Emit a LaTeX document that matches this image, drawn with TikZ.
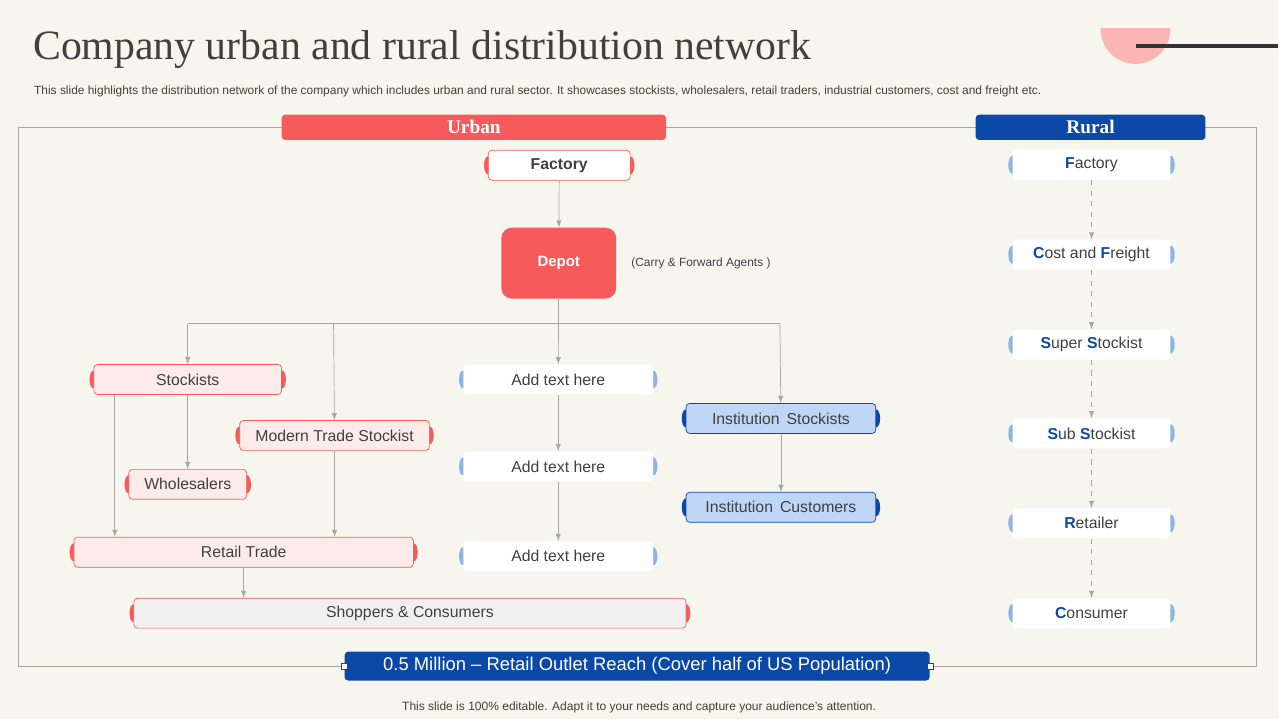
\documentclass[tikz,border=0pt]{standalone}
\usepackage{fontspec}
\setmainfont{Liberation Sans}
\newfontfamily\titlefont{Liberation Serif}
\usetikzlibrary{backgrounds}
\definecolor{slide}{HTML}{F7F6EE}
\definecolor{urbred}{HTML}{F65A5A}
\definecolor{urbpink}{HTML}{FDEBEA}
\definecolor{rurblue}{HTML}{0A49A8}
\definecolor{instblue}{HTML}{BFD6F6}
\definecolor{capblue}{HTML}{8DB4E8}
\definecolor{txt}{HTML}{404040}
\newcommand{\capsof}[2]{%
  \begin{pgfonlayer}{background}
    \fill[#2] (#1.west) ellipse (4 and 9);
    \fill[#2] (#1.east) ellipse (4 and 9);
  \end{pgfonlayer}}
\begin{document}
\begin{tikzpicture}
    [x=0.02cm, y=-0.02cm,
     box/.style={rectangle, rounded corners=2pt, minimum height=0.6cm, inner sep=0pt, font=\fontsize{9}{10}\selectfont, text=txt},
     urb/.style={box, fill=urbpink, draw=urbred},
     plain/.style={box, fill=white, minimum width=3.8cm},
     inst/.style={box, fill=instblue, draw=rurblue, minimum width=3.8cm},
     rur/.style={box, fill=white, minimum width=3.16cm},
     head/.style={rectangle, rounded corners=2pt, minimum height=0.46cm, text=white, font=\titlefont\bfseries\fontsize{11}{12}\selectfont},
     arr/.style={-latex, draw=gray!70},
     darr/.style={-latex, draw=gray!70, dashed}]
    \begin{pgfonlayer}{background}
      \fill[slide] (0,0) rectangle (1280,720);
    \end{pgfonlayer}
    % decoration
    \begin{scope}
      \clip (1090,29) rectangle (1180,80);
      \fill[urbred!45] (1137,29) circle (35);
    \end{scope}
    \draw[line width=2pt, black!80] (1138,46) -- (1280,46);
    % titles
    \node[anchor=west, font=\titlefont\fontsize{23.8}{26}\selectfont, text=txt] (title) at (27,50) {Company urban and rural distribution network};
    \node[anchor=west, font=\fontsize{6.8}{8}\selectfont, text=txt] (sub) at (28,92) {This slide highlights the distribution network of the company which includes urban and rural sector. It showcases stockists, wholesalers, retail traders, industrial customers, cost and freight etc.};
    \node[font=\fontsize{6.85}{8}\selectfont, text=txt] (foot) at (640,708) {This slide is 100\% editable. Adapt it to your needs and capture your audience's attention.};
    % frame
    \draw[gray!70] (18,128) rectangle (1258,667);
    \node[head, fill=urbred, minimum width=7.7cm] (urban) at (474.5,127.5) {Urban};
    \node[head, fill=rurblue, minimum width=4.6cm] (rural) at (1092,127.5) {Rural};
    % urban side
    \node[box, fill=white, draw=urbred, minimum width=2.84cm, font=\bfseries\fontsize{9}{10}\selectfont] (fac) at (560,165.5) {Factory};
    \node[rectangle, rounded corners=6pt, fill=urbred, minimum width=2.3cm, minimum height=1.42cm, text=white, font=\bfseries\fontsize{8.5}{10}\selectfont] (depot) at (559.5,263.5) {Depot};
    \node[anchor=west, font=\fontsize{6.8}{8}\selectfont, text=txt] (cfa) at (626,263.5) {(Carry \& Forward Agents )};
    \node[urb, minimum width=3.76cm] (stock) at (188,380) {Stockists};
    \node[urb, minimum width=3.8cm] (mts) at (335,436) {Modern Trade Stockist};
    \node[urb, minimum width=2.36cm] (whole) at (188,485) {Wholesalers};
    \node[urb, minimum width=6.8cm] (retail) at (244,553) {Retail Trade};
    \node[box, fill=gray!12, draw=urbred, minimum width=11.06cm] (shop) at (410.5,614) {Shoppers \& Consumers};
    \node[plain] (add1) at (559,380) {Add text here};
    \node[plain] (add2) at (559,467) {Add text here};
    \node[plain] (add3) at (559,557) {Add text here};
    \node[inst] (ist) at (782,419) {Institution\, Stockists};
    \node[inst] (icu) at (782,508) {Institution\, Customers};
    \foreach \n in {fac,stock,mts,whole,retail,shop} {\capsof{\n}{urbred}}
    \foreach \n in {add1,add2,add3} {\capsof{\n}{capblue}}
    \foreach \n in {ist,icu} {\capsof{\n}{rurblue}}
    \coordinate (bl) at (188,324);
    \coordinate (bm) at (334,324);
    \coordinate (br) at (781,324);
    \draw[arr] (fac) -- (depot);
    \draw[arr] (depot) -- (add1);
    \draw[draw=gray!70] (bl) -- (br);
    \draw[arr] (bl) -- (stock);
    \draw[arr] (bm) -- (mts);
    \draw[arr] (br) -- (ist);
    \draw[arr] (stock) -- (whole);
    \draw[arr] (stock.south -| 115,0) -- (retail.north -| 115,0);
    \draw[arr] (mts) -- (mts |- retail.north);
    \draw[arr] (retail) -- (retail |- shop.north);
    \draw[arr] (add1) -- (add2);
    \draw[arr] (add2) -- (add3);
    \draw[arr] (ist) -- (icu);
    % rural side
    \newcommand{\hl}[1]{\textbf{\textcolor{rurblue}{#1}}}
    \node[rur] (r1) at (1093,165) {\hl{F}actory};
    \node[rur] (r2) at (1093,255) {\hl{C}ost and \hl{F}reight};
    \node[rur] (r3) at (1093,345) {\hl{S}uper \hl{S}tockist};
    \node[rur] (r4) at (1093,434) {\hl{S}ub \hl{S}tockist};
    \node[rur] (r5) at (1093,524) {\hl{R}etailer};
    \node[rur] (r6) at (1093,614) {\hl{C}onsumer};
    \foreach \n in {r1,r2,r3,r4,r5,r6} {\capsof{\n}{capblue}}
    \foreach \a/\b in {r1/r2,r2/r3,r3/r4,r4/r5,r5/r6} {\draw[darr] (\a) -- (\b);}
    % banner
    \node[rectangle, rounded corners=2pt, fill=rurblue, minimum width=11.72cm, minimum height=0.56cm, text=white, font=\fontsize{10.5}{12}\selectfont] (reach) at (638,667) {0.5 Million -- Retail Outlet Reach (Cover half of US Population)};
    \draw[rurblue, fill=white] ([shift={(-3,-3)}]reach.west) rectangle ++(6,6);
    \draw[rurblue, fill=white] ([shift={(-3,-3)}]reach.east) rectangle ++(6,6);
\end{tikzpicture}
\end{document}
